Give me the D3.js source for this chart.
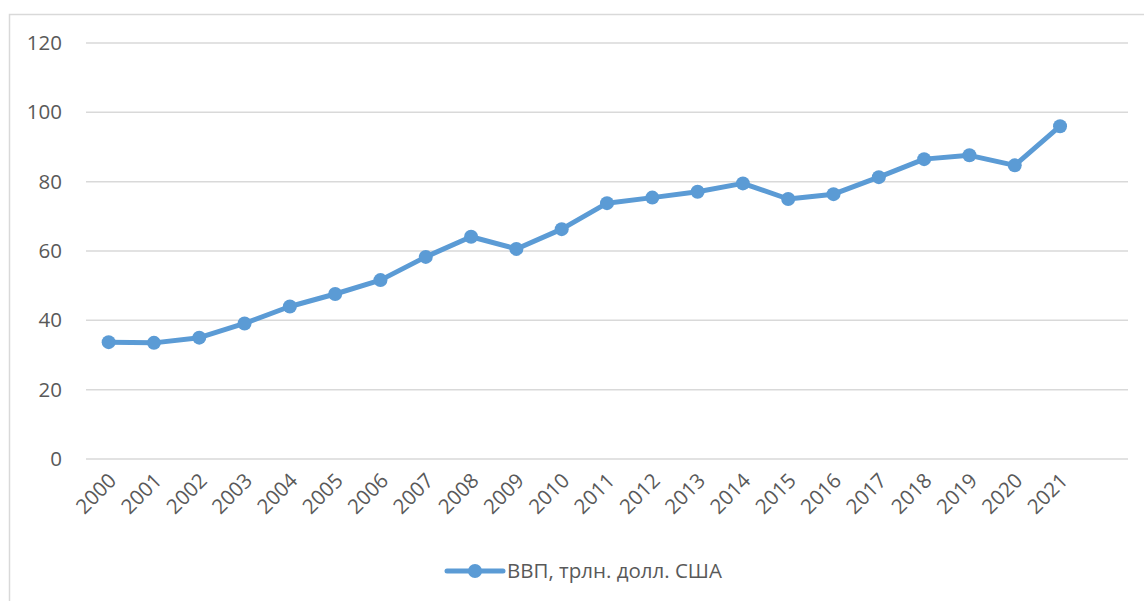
<!DOCTYPE html>
<html lang="ru">
<head>
<meta charset="UTF-8" />
<title>ВВП, трлн. долл. США</title>
<script src="https://d3js.org/d3.v7.min.js"></script>
<style>
  body { margin: 0; background: #fff; font-family: 'Open Sans', sans-serif; }
  svg text { fill: #595959; }
</style>
</head>
<body>
<div id="chart"></div>
<script>
// data
const years = ["2000","2001","2002","2003","2004","2005","2006","2007","2008","2009","2010",
  "2011","2012","2013","2014","2015","2016","2017","2018","2019","2020","2021"];
const gdp = [33.7, 33.5, 35.0, 39.1, 44.0, 47.6, 51.6, 58.3, 64.1, 60.6, 66.3,
  73.8, 75.4, 77.1, 79.5, 75.0, 76.4, 81.3, 86.5, 87.6, 84.7, 96.0];
const yTicks = [0, 20, 40, 60, 80, 100, 120];
const seriesName = "ВВП, трлн. долл. США";

const W = 1144, H = 601;
const plot = { left: 86, right: 1128, top: 43, bottom: 459 };
const color = "#5b9bd5";
const fontSize = 20.5;

const svg = d3.select("#chart").append("svg")
  .attr("width", W).attr("height", H);

// chart border
svg.append("rect")
  .attr("x", 9.5).attr("y", 14.5)
  .attr("width", W).attr("height", H)
  .attr("fill", "none").attr("stroke", "#d9d9d9").attr("stroke-width", 1.5);

// excel leaves one empty slot at the right end
const band = (plot.right - plot.left) / (years.length + 1);
const x = d3.scaleBand().domain(years)
  .range([plot.left, plot.left + band * years.length]);
const y = d3.scaleLinear().domain([0, 120]).range([plot.bottom, plot.top]);

// gridlines
svg.append("g").selectAll("line").data(yTicks).join("line")
  .attr("x1", plot.left).attr("x2", plot.right)
  .attr("y1", d => y(d)).attr("y2", d => y(d))
  .attr("stroke", "#d9d9d9").attr("stroke-width", 1.5);

// y axis labels
const yAxis = svg.append("g")
  .attr("transform", `translate(${plot.left - 24},0)`)
  .call(d3.axisLeft(y).tickValues(yTicks).tickSize(0).tickPadding(0));
yAxis.select(".domain").remove();
yAxis.selectAll("text")
  .attr("font-family", "'Open Sans', sans-serif")
  .attr("font-size", fontSize).attr("fill", "#595959");

// x axis labels, rotated
const xAxis = svg.append("g")
  .attr("transform", `translate(0,${plot.bottom})`)
  .call(d3.axisBottom(x).tickSize(0).tickPadding(0));
xAxis.select(".domain").remove();
xAxis.selectAll("text")
  .attr("font-family", "'Open Sans', sans-serif")
  .attr("font-size", fontSize).attr("fill", "#595959")
  .attr("text-anchor", "end")
  .attr("dy", 0)
  .attr("transform", "translate(9,23) rotate(-45)");

// line + markers
const line = d3.line()
  .x((d, i) => x(years[i]) + x.bandwidth() / 2)
  .y(d => y(d));

svg.append("path")
  .datum(gdp)
  .attr("fill", "none")
  .attr("stroke", color)
  .attr("stroke-width", 5)
  .attr("stroke-linejoin", "round")
  .attr("stroke-linecap", "round")
  .attr("d", line);

svg.append("g").selectAll("circle").data(gdp).join("circle")
  .attr("cx", (d, i) => x(years[i]) + x.bandwidth() / 2)
  .attr("cy", d => y(d))
  .attr("r", 7)
  .attr("fill", color);

// legend
const legend = svg.append("g").attr("transform", "translate(447,571)");
legend.append("line")
  .attr("x1", 0).attr("x2", 56).attr("y1", 0).attr("y2", 0)
  .attr("stroke", color).attr("stroke-width", 5).attr("stroke-linecap", "round");
legend.append("circle").attr("cx", 28).attr("cy", 0).attr("r", 7).attr("fill", color);
legend.append("text")
  .attr("x", 60).attr("y", 0).attr("dy", "0.35em")
  .attr("font-family", "'Open Sans', sans-serif")
  .attr("font-size", fontSize)
  .text(seriesName);
</script>
</body>
</html>
